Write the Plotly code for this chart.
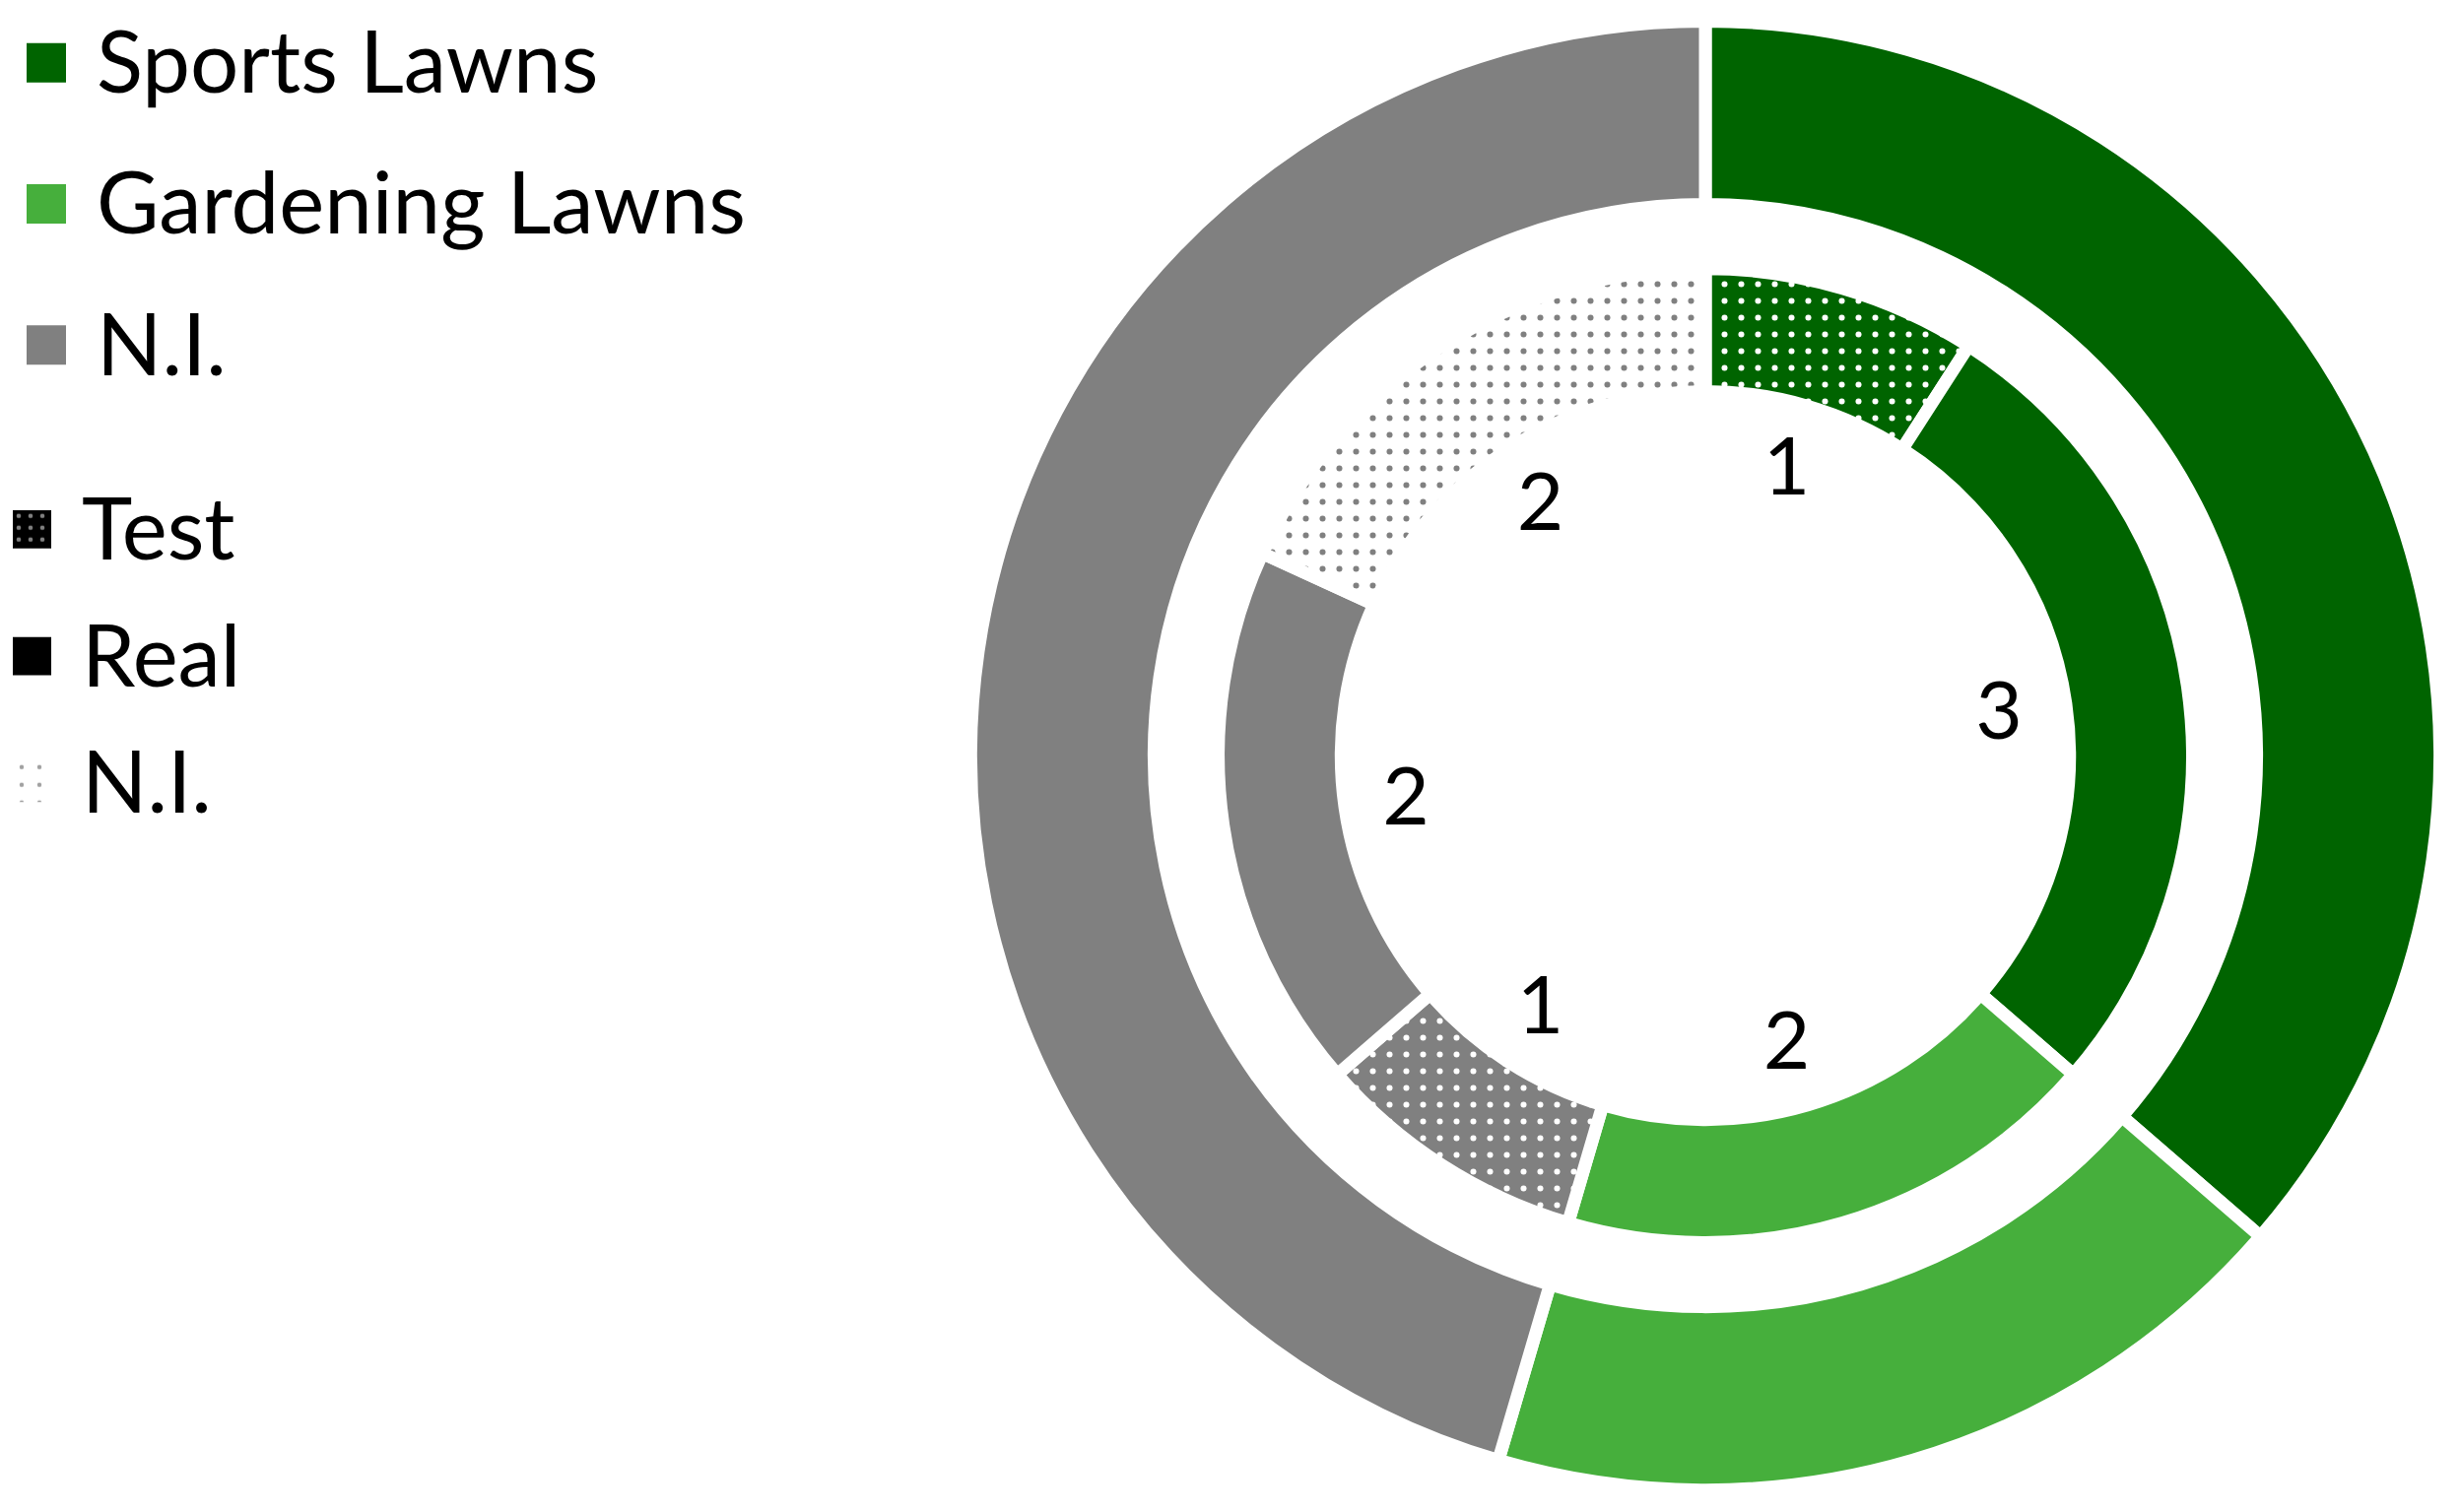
import plotly.graph_objects as go

# --- data ---
group_labels = ["Sports Lawns", "Gardening Lawns", "N.I."]
group_values = [4, 2, 5]
group_colors = ["#006400", "#46AF3C", "#808080"]

# inner ring, clockwise from 12 o'clock
inner_labels = ["Sports Lawns - Test", "Sports Lawns - Real", "Gardening Lawns - Real",
                "N.I. - Test", "N.I. - Real", "N.I. - N.I."]
inner_values = [1, 3, 2, 1, 2, 2]
inner_colors = ["#006400", "#006400", "#46AF3C", "#808080", "#808080", "#808080"]
inner_types = ["Test", "Real", "Real", "Test", "Real", "N.I."]

type_labels = ["Test", "Real", "N.I."]

FONT = "Lato"
W, H = 2497, 1535
OFF = 8  # page body margin


def px_domain(cx, cy, r):
    # square domain (paper fractions) around a pixel centre, cy measured from top
    cx, cy = cx - OFF, cy - OFF
    return dict(x=[(cx - r) / W, (cx + r) / W],
                y=[(H - cy - r) / H, (H - cy + r) / H])


def xdom(a, b):
    return [(a - OFF) / W, (b - OFF) / W]


def ydom(top, bottom):
    return [1 - (bottom - OFF) / H, 1 - (top - OFF) / H]


CX, CY = 1731, 763
GAP = 13

# patterns for the inner ring
shapes, bgs, fgs = [], [], []
for c, t in zip(inner_colors, inner_types):
    if t == "Test":
        shapes.append("."); bgs.append(c); fgs.append("white")
    elif t == "Real":
        shapes.append(""); bgs.append(c); fgs.append(c)
    else:
        shapes.append("."); bgs.append("white"); fgs.append(c)

fig = go.Figure()

fig.add_trace(go.Pie(
    values=group_values, labels=group_labels,
    marker=dict(colors=group_colors, line=dict(color="white", width=GAP)),
    hole=0.7505, domain=px_domain(CX, CY, 749.5),
    sort=False, direction="clockwise", rotation=0,
    textinfo="none", showlegend=False, hoverinfo="label+value",
))

fig.add_trace(go.Pie(
    values=inner_values, labels=inner_labels,
    marker=dict(colors=inner_colors, line=dict(color="white", width=GAP),
                pattern=dict(shape=shapes, bgcolor=bgs, fgcolor=fgs,
                             size=17, solidity=0.1)),
    hole=0.7477, domain=px_domain(CX, CY, 497),
    sort=False, direction="clockwise", rotation=0,
    textinfo="none", showlegend=False, hoverinfo="label+value",
))

# value labels inside the hole, at the middle angle of each inner slice
total = sum(inner_values)
thetas, cum = [], 0
for v in inner_values:
    thetas.append((cum + v / 2) / total * 360)
    cum += v
fig.add_trace(go.Scatterpolar(
    r=[0.615] * len(inner_values), theta=thetas, mode="text",
    text=[str(v) for v in inner_values],
    textfont=dict(family=FONT, size=82, color="black"),
    showlegend=False, hoverinfo="skip",
))

# legend swatches (group colours)
fig.add_trace(go.Bar(
    x=[1] * 3, y=group_labels, orientation="h", width=0.278,
    marker=dict(color=group_colors, line=dict(width=0)),
    xaxis="x", yaxis="y", showlegend=False, hoverinfo="skip",
))
# legend swatches (types)
fig.add_trace(go.Bar(
    x=[1] * 3, y=type_labels, orientation="h", width=0.301,
    marker=dict(color=["black", "black", "white"], line=dict(width=0),
                pattern=dict(shape=[".", "", "."],
                             bgcolor=["black", "black", "white"],
                             fgcolor=["white", "black", "black"],
                             size=[12, 12, 18], solidity=[0.12, 0.1, 0.05])),
    xaxis="x2", yaxis="y2", showlegend=False, hoverinfo="skip",
))

legend_font = dict(family=FONT, size=87, color="black")
fig.update_layout(
    width=W, height=H,
    margin=dict(l=0, r=0, t=0, b=0),
    paper_bgcolor="white", plot_bgcolor="white",
    showlegend=False,
    font=dict(family=FONT, color="black"),
    # label ring sits a touch low of the pie centre, as in the source
    polar=dict(domain=px_domain(CX - 3, CY + 6, 497), bgcolor="rgba(0,0,0,0)",
               radialaxis=dict(visible=False, range=[0, 1]),
               angularaxis=dict(visible=False, direction="clockwise", rotation=90)),
    xaxis=dict(domain=xdom(27, 67), range=[0, 1], visible=False, fixedrange=True),
    yaxis=dict(domain=ydom(8, 400), anchor="x", type="category",
               categoryorder="array", categoryarray=group_labels,
               range=[(400 - 56) / 144, (8 - 56) / 144], side="right",
               showgrid=False, zeroline=False, showline=False, ticks="",
               tickfont=legend_font, ticklabelstandoff=30, fixedrange=True),
    xaxis2=dict(domain=xdom(13, 52), range=[0, 1], visible=False, fixedrange=True),
    yaxis2=dict(domain=ydom(440, 860), anchor="x2", type="category",
                categoryorder="array", categoryarray=type_labels,
                range=[(860 - 532) / 129.5, (440 - 532) / 129.5], side="right",
                showgrid=False, zeroline=False, showline=False, ticks="",
                tickfont=legend_font, ticklabelstandoff=30, fixedrange=True),
)

fig.write_html("out.html")
